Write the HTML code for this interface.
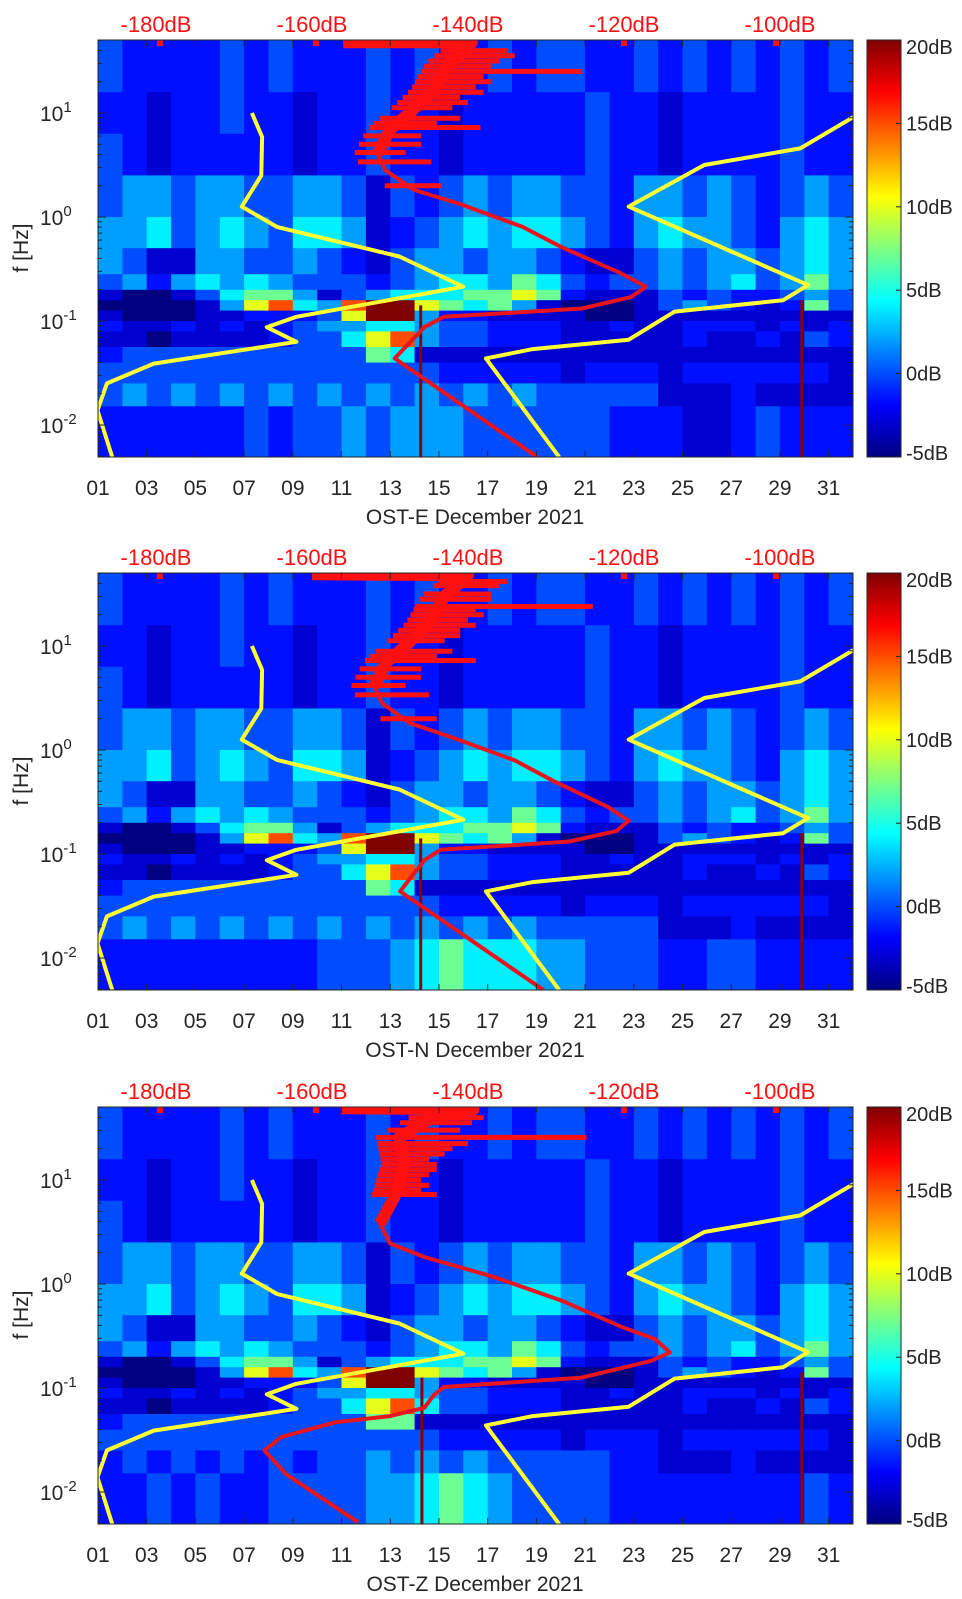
<!DOCTYPE html>
<html><head><meta charset="utf-8"><style>
html,body{margin:0;padding:0;background:#fff;}
svg{display:block;font-family:"Liberation Sans","DejaVu Sans",sans-serif;}
</style></head><body>
<svg id="fig" width="962" height="1599" viewBox="0 0 962 1599" xmlns="http://www.w3.org/2000/svg">
<defs>
<linearGradient id="jet" x1="0" y1="1" x2="0" y2="0">
<stop offset="0" stop-color="#000080"/><stop offset="0.125" stop-color="#0000ff"/><stop offset="0.375" stop-color="#00ffff"/><stop offset="0.625" stop-color="#ffff00"/><stop offset="0.875" stop-color="#ff0000"/><stop offset="1" stop-color="#800000"/>
</linearGradient>
</defs>
</svg>
<script>
// ---- data ----
const days = ['01','03','05','07','09','11','13','15','17','19','21','23','25','27','29','31'];
const dbTicks = [-180,-160,-140,-120,-100];
const cbLabels = ['20dB','15dB','10dB','5dB','0dB','-5dB'];
const rowBounds = [1.70,1.2,0.8,0.4,0.0,-0.3,-0.55,-0.7,-0.8,-0.9,-1.0,-1.1,-1.25,-1.4,-1.6,-1.82,-2.31];
const levelDb = [-5,-3,-1.5,0,2,4,7,10,15,20];
const gridE = [
"3222232322232322323322323232323",
"2212232212232212222232212222322",
"3212222212232212222232212222322",
"3443443344313234344332443432343",
"4453454355412345455432454432454",
"4311443343213443443211343443454",
"3424545433323455465323343453464",
"1001356641345556676211132322343",
"0000147854899765641000134321263",
"1000112223799422111100111111111",
"2112121234455433222112112221212",
"1101111233578433222111112112132",
"2333333333365111111111111111111",
"3333333333333322222122212222221",
"3434343434343434343333311121111",
"2222223233434443333332221123222"];
const gridN = [
"3222232322232322323322323232323",
"2212232212232212222232212222322",
"3212222212232212222232212222322",
"3443443344313234344332443432343",
"4453454355412345455432454432454",
"4311443343213443443211343443454",
"3424545433323455465323343453464",
"1001356641345556676211132322343",
"0000147854899765641000134321263",
"1000112223799422111100111111111",
"2112121234455433222112112221212",
"1101111233578433222111112112132",
"2333333333365111111111111111111",
"3333333333333322222122212222221",
"3434343434343434343333311121111",
"2222222223334565554433322332222"];
const gridZ = [
"3222232322232322323322323232323",
"2212232212232212222232212222322",
"3212222212232212222232212222322",
"3443443344313234344332443432343",
"4453454355412345455432454432454",
"4311443343213443443211343443454",
"3424545433323455465323343453464",
"1001356641345556676211132322343",
"0000147854899765641000134321263",
"1000112223799422111100111111111",
"2112121234455433222112112221212",
"1101111233578533222111112112132",
"2333333333366111111111111111111",
"3333333333333322222122212222221",
"2323232323343434333332211121111",
"2232322333344565433332222222232"];
const nlnmDb = [-167.7,-166.4,-166.5,-169.0,-164.5,-148.8,-140.6,-162.0,-165.8,-162.0,-175.9,-180.3,-186.3,-187.5,-185.6];
const nlnmF  = [1.0,0.77,0.40,0.10,-0.095,-0.38,-0.67,-0.96,-1.06,-1.20,-1.36,-1.41,-1.60,-1.86,-2.31];
const nhnmDb = [-89.7,-97.4,-109.7,-119.4,-96.4,-99.6,-113.5,-119.4,-131.7,-137.7,-128.3];
const nhnmF  = [1.0,0.66,0.50,0.10,-0.655,-0.80,-0.91,-1.18,-1.27,-1.36,-2.31];
const redEDb = [-131.1,-149.4,-145.6,-143.1,-125.4,-119.1,-117.2,-120.4,-128,-133,-141.2,-146.9,-150.6,-151.6,-150,-147.5,-144.4,-142.4,-139.9,-139.5,-156];
const redEF  = [-2.31,-1.36,-1.06,-0.96,-0.88,-0.77,-0.67,-0.54,-0.29,-0.095,0.13,0.26,0.45,0.61,0.84,1.0,1.22,1.48,1.64,1.68,1.68];
const redNDb = [-130.3,-148.7,-145.6,-143.5,-127,-121,-119.4,-122,-129,-134,-142,-147.5,-151,-152,-150.5,-148,-145,-143,-140.5,-140,-160];
const redNF  = [-2.31,-1.36,-1.06,-0.96,-0.88,-0.78,-0.68,-0.55,-0.3,-0.1,0.12,0.26,0.45,0.61,0.84,1.0,1.22,1.48,1.64,1.68,1.69];
const redZDb = [-154.1,-163.3,-166.1,-163.9,-157,-150,-145.6,-144.4,-143.1,-125.4,-116.6,-114.1,-116,-120.4,-128,-136.8,-145.6,-150,-151.3,-149.4,-148.1,-148.8,-144.4,-139.3,-156.3];
const redZF  = [-2.29,-1.83,-1.60,-1.47,-1.33,-1.27,-1.19,-1.07,-0.99,-0.90,-0.74,-0.66,-0.53,-0.41,-0.16,0.07,0.26,0.39,0.58,0.84,1.16,1.41,1.61,1.68,1.69];
const spikeEF  = [1.40,0.86,0.53,0.30,1.55,1.5,1.3,1.2,1.1,0.95,0.7,1.6,1.45,1.35,1.25,1.15,1.05,0.9,0.78,0.62];
const spikeEDb = [-125.4,-138.4,-144.7,-143.4,-134,-136,-137,-138,-140,-141,-146,-135,-137,-138,-139,-141,-142,-144,-146,-148];
const spikeNF  = [1.38,0.86,0.53,0.30,1.58,1.5,1.3,1.2,1.1,0.95,0.7,1.62,1.45,1.35,1.25,1.15,1.05,0.9,0.78,0.62];
const spikeNDb = [-124,-139,-145,-144,-136,-137,-138,-139,-141,-142,-146,-135,-137,-139,-140,-141,-143,-144,-146,-148];
const spikeZF  = [1.41,1.55,1.25,1.1,0.95,0.86,1.35,1.48,1.2,1.0,1.6,1.3,1.15,1.05,0.9];
const spikeZDb = [-124.8,-139.5,-143,-144,-145,-144,-140,-141,-145,-146,-138,-142,-144,-145,-146];
const vlineEDay = [14.25,29.9];
const vlineETop = [-0.85,-0.8];
const vlineZDay = [14.3,29.9];
const vlineZTop = [-0.9,-0.85];
const dotDb = [-179.5,-159.5,-120,-100.5];

// ---- layout ----
const NS='http://www.w3.org/2000/svg';
const svg=document.getElementById('fig');
const X0=98, X1=853, H=417;
function xDay(d){return X0+(d-1)*(X1-X0)/31;}
function xDb(db){return 156+(db+180)*7.8;}
function yF(top,lf){return top+73+(1-lf)*104;}
function jet(db){
  let t=Math.max(0,Math.min(1,(db+5)/25));
  const c=v=>Math.round(255*Math.max(0,Math.min(1,v)));
  return 'rgb('+c(1.5-Math.abs(4*t-3))+','+c(1.5-Math.abs(4*t-2))+','+c(1.5-Math.abs(4*t-1))+')';
}
function mk(tag,attrs,parent){const e=document.createElementNS(NS,tag);for(const k in attrs)e.setAttribute(k,attrs[k]);(parent||svg).appendChild(e);return e;}
function interpDb(dbs,fs,lf){
  let best=null;
  for(let i=0;i<fs.length-1;i++){
    const a=fs[i],b=fs[i+1];
    if((lf-a)*(lf-b)<=0&&a!==b){const t=(lf-a)/(b-a);best=dbs[i]+t*(dbs[i+1]-dbs[i]);}
  }
  return best===null?dbs[dbs.length-2]:best;
}

const panels=[
 {id:'e',top:40,grid:gridE,rdb:redEDb,rf:redEF,sf:spikeEF,sdb:spikeEDb,vd:vlineEDay,vt:vlineETop,title:'OST-E December 2021'},
 {id:'n',top:573,grid:gridN,rdb:redNDb,rf:redNF,sf:spikeNF,sdb:spikeNDb,vd:vlineEDay,vt:vlineETop,title:'OST-N December 2021'},
 {id:'z',top:1107,grid:gridZ,rdb:redZDb,rf:redZF,sf:spikeZF,sdb:spikeZDb,vd:vlineZDay,vt:vlineZTop,title:'OST-Z December 2021'}
];

panels.forEach(p=>{
  const T=p.top;
  const g=mk('g',{});
  
  
  const cp=mk('clipPath',{id:'clip-'+p.id},svg);
  mk('rect',{x:X0,y:T,width:X1-X0,height:H},cp);
  const hm=mk('g',{'clip-path':'url(#clip-'+p.id+')'},g);
  
  
  for(let r=0;r<p.grid.length;r++){
    const y0=yF(T,rowBounds[r]),y1=yF(T,rowBounds[r+1]);
    for(let c=0;c<31;c++){
      const v=levelDb[+p.grid[r][c]];
      const x0=xDay(c+1),x1=xDay(c+2);
      const cell=mk('rect',{x:x0.toFixed(1),y:y0.toFixed(1),width:(x1-x0+0.6).toFixed(1),height:(y1-y0+0.6).toFixed(1),fill:jet(v)},hm);
      
      
    }
  }
  for(let i=0;i<p.vd.length;i++){
    const vl=mk('line',{x1:xDay(p.vd[i]),x2:xDay(p.vd[i]),y1:yF(T,p.vt[i]),y2:T+H,stroke:'#8b0000','stroke-width':3},hm);
    
    
  }
  [[nlnmDb,nlnmF,'nlnm-curve'],[nhnmDb,nhnmF,'nhnm-curve']].forEach(m=>{
    const pts=m[0].map((d,i)=>xDb(d).toFixed(1)+','+yF(T,m[1][i]).toFixed(1)).join(' ');
    const pl=mk('polyline',{points:pts,fill:'none',stroke:'#ffff33','stroke-width':4,'stroke-linejoin':'round'},hm);
    
    
  });
  const rp=p.rdb.map((d,i)=>xDb(d).toFixed(1)+','+yF(T,p.rf[i]).toFixed(1)).join(' ');
  const red=mk('polyline',{points:rp,fill:'none',stroke:'#e8141e','stroke-width':4,'stroke-linejoin':'round'},hm);
  
  
  // thick upper part of the red curve
  const up=[];
  p.rdb.forEach((d,i)=>{if(p.rf[i]>=0.5)up.push(xDb(d).toFixed(1)+','+yF(T,p.rf[i]).toFixed(1));});
  const redUp=mk('polyline',{points:up.join(' '),fill:'none',stroke:'#ff1010','stroke-width':12,'stroke-linejoin':'round'},hm);
  
  
  for(let i=0;i<p.sf.length;i++){
    const base=interpDb(p.rdb,p.rf,p.sf[i]);
    const sp=mk('line',{x1:xDb(base-3),x2:xDb(p.sdb[i]),y1:yF(T,p.sf[i]),y2:yF(T,p.sf[i]),stroke:'#ff1010','stroke-width':5},hm);
    
    
  }
  dotDb.forEach(d=>{
    const dot=mk('rect',{x:xDb(d)-3,y:T,width:6,height:6,fill:'#ff1010'},hm);
    
    
  });
  const fr=mk('rect',{x:X0,y:T,width:X1-X0,height:H,fill:'none',stroke:'#262626','stroke-width':1},g);
  
  
  days.forEach(d=>{
    const x=xDay(+d);
    mk('line',{x1:x,x2:x,y1:T+H,y2:T+H-6,stroke:'#262626'},g);
    mk('line',{x1:x,x2:x,y1:T,y2:T+6,stroke:'#262626'},g);
    const t=mk('text',{x:x,y:T+H+38,'text-anchor':'middle','font-size':21,fill:'#262626'},g);
    t.textContent=d;
    
    
  });
  const tt=mk('text',{x:475,y:T+H+67,'text-anchor':'middle','font-size':21,fill:'#262626'},g);
  tt.textContent=p.title;
  
  
  dbTicks.forEach(db=>{
    const t=mk('text',{x:xDb(db),y:T-8,'text-anchor':'middle','font-size':22,fill:'#ff1010'},g);
    t.textContent=db+'dB';
    
    
  });
  for(let e=-3;e<=1;e++){
    for(let k=1;k<10;k++){
      const lf=e+Math.log10(k);
      if(lf>1.7||lf<-2.31)continue;
      const y=yF(T,lf),L=k===1?8:4;
      mk('line',{x1:X0,x2:X0+L,y1:y,y2:y,stroke:'#262626'},g);
      mk('line',{x1:X1,x2:X1-L,y1:y,y2:y,stroke:'#262626'},g);
    }
  }
  [1,0,-1,-2].forEach(e=>{
    const y=yF(T,e);
    const t=mk('text',{x:40,y:y+8,'font-size':21,fill:'#262626'},g);
    
    
    t.appendChild(document.createTextNode('10'));
    const s=mk('tspan',{dy:-9,'font-size':15},t);
    s.textContent=String(e);
  });
  const yl=mk('text',{x:0,y:0,'font-size':21,fill:'#262626','text-anchor':'middle',transform:'translate(28,'+(T+208)+') rotate(-90)'},g);
  yl.textContent='f [Hz]';
  
  
  const cb=mk('rect',{x:867,y:T,width:34,height:H,fill:'url(#jet)',stroke:'#262626','stroke-width':1},g);
  
  
  cbLabels.forEach((lab,i)=>{
    const y=T+i*H/5;
    mk('line',{x1:896,x2:901,y1:y,y2:y,stroke:'#262626'},g);
    const t=mk('text',{x:906,y:y+(i===0?14:(i===5?3:7)),'font-size':20,fill:'#262626'},g);
    t.textContent=lab;
    
    
  });
});
</script>
</body></html>
